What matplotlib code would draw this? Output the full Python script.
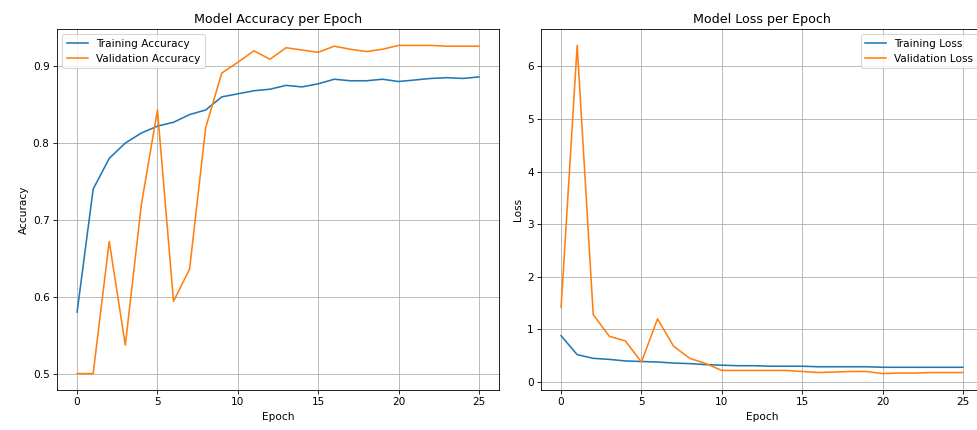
import numpy as np
import matplotlib
matplotlib.use("Agg")
import matplotlib.pyplot as plt

epochs = np.arange(26)
train_acc = [0.58, 0.74, 0.78, 0.80, 0.813, 0.822, 0.827, 0.837, 0.843, 0.860, 0.864, 0.868, 0.870,
             0.875, 0.873, 0.877, 0.883, 0.881, 0.881, 0.883, 0.880, 0.882, 0.884, 0.885, 0.884, 0.886]
val_acc = [0.50, 0.50, 0.672, 0.537, 0.72, 0.843, 0.594, 0.636, 0.82, 0.891, 0.905, 0.920, 0.909,
           0.924, 0.921, 0.918, 0.926, 0.922, 0.919, 0.922, 0.927, 0.927, 0.927, 0.926, 0.926, 0.926]
train_loss = [0.88, 0.52, 0.45, 0.43, 0.40, 0.39, 0.38, 0.36, 0.35, 0.33, 0.32, 0.31, 0.31,
              0.30, 0.30, 0.30, 0.29, 0.29, 0.29, 0.29, 0.28, 0.28, 0.28, 0.28, 0.28, 0.28]
val_loss = [1.42, 6.4, 1.28, 0.87, 0.78, 0.38, 1.2, 0.68, 0.45, 0.35, 0.22, 0.22, 0.22,
            0.22, 0.22, 0.20, 0.18, 0.19, 0.20, 0.20, 0.16, 0.17, 0.17, 0.18, 0.18, 0.18]

dpi = 76
fig = plt.figure(figsize=(977 / dpi, 430 / dpi), dpi=dpi)
ax1 = fig.add_axes([57 / 977, 40 / 430, 442 / 977, 361 / 430])
ax2 = fig.add_axes([541 / 977, 40 / 430, 442 / 977, 361 / 430])

ax1.plot(epochs, train_acc, label='Training Accuracy')
ax1.plot(epochs, val_acc, label='Validation Accuracy')
ax1.set_title('Model Accuracy per Epoch')
ax1.set_xlabel('Epoch')
ax1.set_ylabel('Accuracy')
ax1.legend(loc='upper left')
ax1.grid(True)

ax2.plot(epochs, train_loss, label='Training Loss')
ax2.plot(epochs, val_loss, label='Validation Loss')
ax2.set_title('Model Loss per Epoch')
ax2.set_xlabel('Epoch')
ax2.set_ylabel('Loss')
ax2.legend(loc='upper right')
ax2.grid(True)

fig.savefig('out.png', dpi=dpi)
